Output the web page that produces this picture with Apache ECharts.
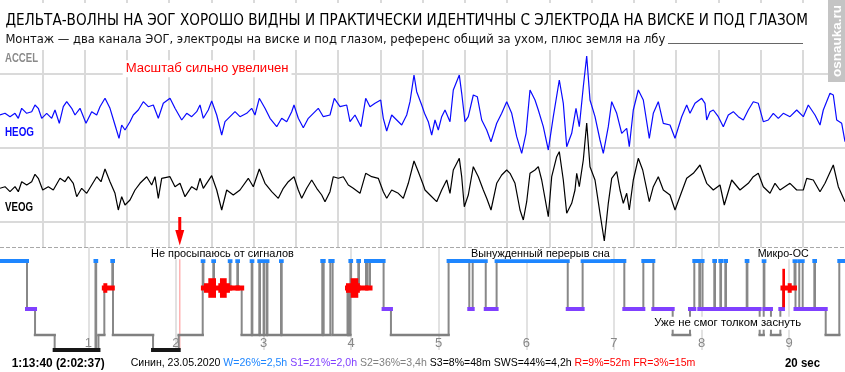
<!DOCTYPE html>
<html><head><meta charset="utf-8">
<script src="https://cdn.jsdelivr.net/npm/echarts@6/dist/echarts.min.js"></script>
<style>html,body{margin:0;padding:0;background:#fff}#c{width:845px;height:372px}</style>
</head><body><div id="c"></div>
<script>
// ---------------- DATA ----------------
const FS = 42.25;          // display samples per second
const EPOCH_SEC = 20;      // epoch length, s
// HEOG trace: [sample, amplitude]
const heog = [[0,-3],[5,-1.3],[10,-4.7],[15,-1.3],[18.3,-6.3],[21.7,3.7],[26.7,-1.3],[31.7,0.3],[35,7],[38.3,3.7],[41.7,-6.3],[46.7,-1.3],[51.7,-6.3],[55,2],[59.3,-11.3],[63.3,5.3],[66.7,10.3],[71.7,3.7],[75,-3],[80,3.7],[86,-11.3],[91.7,0.3],[96.7,-3],[100,5.3],[105,13.7],[110,3.7],[115,-13],[119,-26.3],[121.7,-13],[125,-18],[130,-9.7],[133.3,-3],[138.3,2],[143.3,10.3],[148.3,5.3],[153.3,7],[158.3,-6.3],[163.3,8.7],[170,13.7],[175,3.7],[181.7,-8],[186.7,-1.3],[191.7,-4.7],[196.7,0.3],[200,7],[203.3,-6.3],[208.3,2],[211.7,11],[216.7,-3],[221.7,-23],[225,-9.7],[230,-4.7],[235,0.3],[240,-4.7],[246.7,-1.3],[251.7,3.7],[255,-3],[259.3,13.7],[265,3.7],[270,-6.3],[276.7,-14.7],[281.7,-6.3],[286.7,-9.7],[291.7,0.3],[294,7],[298.3,-6.3],[303.3,-15.7],[308.3,-6.3],[313.3,-1.3],[318.3,3.7],[323.3,-4.7],[330,-3],[334.3,13.7],[340,5.3],[346.7,7],[350,-9.7],[355,-3],[361,-14.7],[365.7,13.7],[370,5.3],[375,8.7],[380.7,12],[383.3,-6.3],[386.7,-19],[391.7,-3],[396.7,-8],[401.7,-13],[406.7,-3],[410,10.3],[414,37],[416.7,20.3],[421.7,7],[424.5,-1.3],[428.3,-9.7],[431.7,-23],[435,-8],[438.3,-18],[441.7,-4.7],[445,2],[450,-9.7],[453.3,22],[459.3,37],[461.7,18.7],[465,-9.7],[468.3,-4.7],[473.3,17],[477.3,15.3],[481.7,-8],[486.7,-18],[491,-29.7],[496.7,-11.3],[501.7,-1.3],[506.7,10.3],[511.7,-1.3],[516.7,-24.7],[521.7,-41.3],[526,-21.3],[530,22],[535,12],[538.3,2],[543.3,-14.7],[548.3,-38],[553.3,-4.7],[559.3,32],[563.3,8.7],[566.7,-34.7],[571.7,-21.3],[576,3.7],[579.3,-14.7],[583.3,25.3],[586.7,56],[590,12],[595,-4.7],[600,-28],[603.3,-41.3],[608.3,-14.7],[611.7,10.3],[616.7,-1.3],[621.7,-21.3],[626.7,-16.3],[629.3,-34.7],[633.3,2],[638.3,22],[643.3,12],[649.3,-26.3],[653.3,-1.3],[658.3,10.3],[663.3,-11.3],[670,-13],[675,-26.3],[681.7,-4.7],[686.7,7],[690,-1.3],[695,8.7],[701.7,13.7],[705,8.7],[706.7,-8],[710,0.3],[713.3,2],[718.3,-4.7],[723.3,-14.7],[728.3,-3],[733.3,0.3],[738.3,-4.7],[743.3,-8],[748.3,2],[753.3,10.3],[758.3,8.7],[763.3,-9.7],[768.3,-8],[773.3,-1.3],[778.3,-6.3],[783.3,-1.3],[790,-4.7],[796.7,2],[803.3,-4.7],[808.3,7],[815,-3],[820,-13],[823.3,2],[830,18.7],[833.3,17],[836.7,-8],[841.7,-11.3],[845,-29.7]];
// VEOG trace: [sample, amplitude]
const veog = [[0,-1.3],[5,0.3],[10,-4.7],[15,0.3],[18.3,-4.7],[21.7,5.3],[26.7,2],[31.7,5.3],[35,12.7],[38.3,8.7],[42.7,-3],[48.3,0.3],[53.3,-3],[60,8.7],[65,5.3],[68.3,10.3],[73.3,3.7],[76.7,-9.7],[81.7,-1.3],[86.7,-6.3],[91.7,2],[96.7,10.3],[101,5.3],[105,18],[110,5.3],[115,-6.3],[118.3,-23],[121.7,-9.7],[125,-18],[130,-13],[135,-3],[140,3.7],[146.7,10.3],[151.7,2],[155,10.3],[158.3,-11.3],[161.7,8.7],[170,10.3],[175,0.3],[180,3.7],[185,-9.7],[191.7,0.3],[196.7,-3],[200,8.7],[203.3,-1.3],[211.7,11.3],[216.7,-3],[221.7,-23],[226.7,-3],[233.3,-8],[240,-3],[248.3,8.7],[253.3,0.3],[259.3,18],[265,3.7],[271.7,-4.7],[278.3,-11.3],[283.3,-1.3],[288.3,5.3],[294,10.3],[298.3,-3],[301.7,-11.3],[306.7,-1.3],[311.7,7],[316.7,-1.3],[321.7,-8],[325,-14.7],[330,-4.7],[333.3,10.3],[338.3,8.7],[343.3,10.3],[348.3,2],[353.3,-1.3],[360,-6.3],[365.7,13.7],[371.7,10.3],[378.3,8.7],[383.3,-4.7],[386.7,-11.3],[391.7,-3],[398.3,-6.3],[403.3,-11.3],[408.3,3.7],[414,26],[418.3,15.3],[423.3,2],[425,-3],[430,-8],[436.7,-14.7],[441.7,-3],[446.7,7],[450,-6.3],[453.3,17],[459.3,28.7],[461.7,10.3],[464.3,-19.7],[468.3,-8],[473.3,20.3],[478.3,10.3],[483.3,-3],[486.7,-11.3],[491,-23],[496.7,3.7],[501.7,12],[506.7,17],[510,13.7],[515,3.7],[520,-23],[523.3,-33],[526.7,-14.7],[530,13.7],[535,17],[538.3,20.3],[541.7,7],[548.3,-29.7],[551.7,10.3],[556.7,30.3],[559.3,35.3],[563.3,7],[566.7,-26.3],[571.7,-16.3],[575,-3],[576.7,13.7],[579.3,0.3],[583.3,27],[586.7,64],[590,20.3],[595,7],[600,-26.3],[604.3,-54],[608.3,-16.3],[611.7,8.7],[616.7,15.3],[620,-3],[623.3,-16.3],[626.7,-6.3],[629.3,-23],[633.3,7],[638.3,28.7],[642.7,17],[649.3,-14.7],[653.3,0.3],[658.3,10.3],[663.3,-3],[670,-8],[675,-23],[681.7,-4.7],[686.7,8.7],[693.3,13.7],[700,22],[706.7,3.7],[713.3,-3],[720,2],[724.3,-18],[731.7,7],[740,-3],[748.3,3.7],[753.3,10.3],[758.3,13.7],[763.3,0.3],[770,-6.3],[775,3.7],[780,-3],[790,3.7],[796.7,-3],[803.3,-3],[806.7,8.7],[813.3,7],[820,-4.7],[825,3.7],[833.3,22],[838.3,0.3],[845,-14.7]];

// Hypnogram: stage change times (hours from start) and stages
const stages = ['W','R','S1','S2','S3'];
const hypT = [0,0.300,0.392,0.616,1.082,1.090,1.116,1.183,1.274,1.282,1.739,2.032,2.306,2.314,2.427,2.435,2.615,2.623,2.701,2.709,2.751,2.865,2.873,2.952,2.960,3.001,3.009,3.037,3.045,3.200,3.208,3.671,3.687,3.763,3.789,3.959,3.968,3.976,3.984,3.992,4.000,4.082,4.090,4.170,4.189,4.216,4.371,4.455,5.113,5.349,5.388,5.537,5.661,6.473,6.643,7.119,7.336,7.450,7.671,7.869,7.918,7.975,7.983,8.012,8.146,8.154,8.215,8.223,8.272,8.280,8.516,8.524,8.664,8.710,8.718,8.793,8.900,8.930,9.062,9.073,9.116,9.155,9.288,9.296,9.418,9.573];
const hypS = ['W','S1','S2','S3','W','S3','S2','R','W','S2','S3','S2','W','R','W','R','W','R','W','R','S2','W','S2','W','S2','W','S2','W','S2','W','S2','W','S2','W','S2','R','S2','R','S2','W','R','W','R','W','R','W','S1','S2','W','S1','W','S1','W','S1','W','S1','W','S1','S2','S1','W','S1','W','S1','W','S1','W','S1','W','S1','W','S1','S2','W','S1','S2','S1','R','W','S1','W','S1','W','S1','S2','W'];
const HYP_END = 9.63;
// REM eye-movement bursts: start h, end h, intensity (1,2,4)
const remStart = [1.172,2.321,2.370,2.484,2.503,3.942,3.995,8.923,8.984];
const remEnd   = [1.217,2.458,2.458,2.617,2.580,4.100,4.082,8.953,9.030];
const remAmp   = [1,1,2,1,2,1,2,4,1];
const CURSOR_H = 2.044;    // 2:02:37 elapsed
const hourTicks = [1,2,3,4,5,6,7,8,9];

const titleText = 'ДЕЛЬТА-ВОЛНЫ НА ЭОГ ХОРОШО ВИДНЫ И ПРАКТИЧЕСКИ ИДЕНТИЧНЫ С ЭЛЕКТРОДА НА ВИСКЕ И ПОД ГЛАЗОМ';
const subText = 'Монтаж — два канала ЭОГ, электроды на виске и под глазом, референс общий за ухом, плюс земля на лбу';
const statParts = ['Синин, 23.05.2020 ','W=26%=2,5h ','S1=21%=2,0h ','S2=36%=3,4h ','S3=8%=48m SWS=44%=4,2h ','R=9%=52m FR=3%=15m'];

// ---------------- STYLE ----------------
const W_C='#1e86ff', R_C='#ff0000', S1_C='#8040ff', S2_C='#808080', S3_C='#161616';
const statColors = ['#000',W_C,S1_C,S2_C,'#000',R_C];
const STAGE_STYLE = [
  {level:14, color:W_C, width:4},
  {level:41, color:R_C, width:5},
  {level:62, color:S1_C, width:4},
  {level:88, color:S2_C, width:2.5},
  {level:103, color:S3_C, width:4}
];
const REM_HALF = {1:4.8, 2:9.8, 4:19.2};
const GRID_C = '#dadada';

const cv = document.createElement('canvas').getContext('2d');
function has(f){ const s='АБВГДabcdefWMil 123'; cv.font='40px monospace'; const a=cv.measureText(s).width; cv.font='40px "'+f+'", monospace'; return Math.abs(cv.measureText(s).width-a)>0.5; }
const NARROW = has('Liberation Sans Narrow') ? '"Liberation Sans Narrow"' : (has('DejaVu Sans Condensed') ? '"DejaVu Sans Condensed"' : '"Liberation Sans"');
const SANS = '"Liberation Sans", Arial, sans-serif';
function measure(text, fam, weight, size){ cv.font = weight+' '+size+'px '+fam; return cv.measureText(text).width; }

// text fitted to a width: either by font size, or (if size given) by horizontal scale
function txt(text, x, y, fam, weight, width, color, extra, size){
  let fs, sx = 1;
  if (size) { fs = size; sx = width / measure(text, fam, weight, size); }
  else { fs = 100*width/measure(text, fam, weight, 100); }
  return {type:'text', x:x, y:y, z:61, scaleX:sx, style:Object.assign({text:text, fontFamily:fam.replace(/"/g,''), fontSize:fs, fontWeight:weight, fill:color, align:'left', verticalAlign:'middle'}, extra||{})};
}

// ---------------- BUILD ----------------
const segs = hypT.map((t,i)=>[t, i+1<hypT.length?hypT[i+1]:HYP_END, stages.indexOf(hypS[i]), i>0?stages.indexOf(hypS[i-1]):-1]);
const rems = remStart.map((s,i)=>[s, remEnd[i], remAmp[i]]);

const statFull = statParts.join('');
const statFs = 100*565/measure(statFull, SANS, 'normal', 100);
const rich = {};
statParts.forEach((p,i)=>{ rich['p'+i] = {fill:statColors[i], fontSize:statFs, fontFamily:'Liberation Sans'}; });
const statText = statParts.map((p,i)=>'{p'+i+'|'+p+'}').join('');

const chart = echarts.init(document.getElementById('c'));
const option = {
  animation:false,
  backgroundColor:'#fff',
  grid:[
    {left:0, top:-0.5, width:845, height:248},
    {left:0, top:37, width:845, height:150},
    {left:0, top:112, width:845, height:150},
    {left:0.7, top:247, width:844.3, height:103}
  ],
  xAxis:[
    {gridIndex:0, type:'value', min:0, max:EPOCH_SEC, interval:1, axisLine:{show:false}, axisTick:{show:false}, axisLabel:{show:false},
      splitLine:{show:true, showMinLine:false, showMaxLine:false, lineStyle:{color:GRID_C, width:2}}},
    {gridIndex:1, type:'value', min:0, max:EPOCH_SEC, show:false},
    {gridIndex:2, type:'value', min:0, max:EPOCH_SEC, show:false},
    {gridIndex:3, type:'value', min:0, max:844.3/87.6, interval:1, axisLine:{show:false}, axisTick:{show:false},
      axisLabel:{show:true, inside:true, margin:0, color:'#888', fontSize:13, fontFamily:'Liberation Sans', showMinLabel:false, showMaxLabel:false,
        formatter:v=> hourTicks.indexOf(Math.round(v))>=0 && Math.abs(v-Math.round(v))<1e-6 ? String(Math.round(v)) : ''},
      splitLine:{show:true, showMinLine:false, showMaxLine:false, lineStyle:{color:'#e2e2e2', width:2}}}
  ],
  yAxis:[
    {gridIndex:0, type:'value', min:0, max:3.35, interval:1, inverse:true, axisLine:{show:false}, axisTick:{show:false}, axisLabel:{show:false},
      splitLine:{show:true, showMinLine:false, showMaxLine:false, lineStyle:{color:GRID_C, width:2}}},
    {gridIndex:1, type:'value', min:-75, max:75, show:false},
    {gridIndex:2, type:'value', min:-75, max:75, show:false},
    {gridIndex:3, type:'value', min:0, max:103, inverse:true, show:false}
  ],
  series:[
    {type:'line', name:'HEOG', xAxisIndex:1, yAxisIndex:1, data:heog.map(p=>[p[0]/FS, p[1]]), symbol:'none', clip:false, z:3,
      lineStyle:{color:'#0a0aff', width:1.2}},
    {type:'line', name:'VEOG', xAxisIndex:2, yAxisIndex:2, data:veog.map(p=>[p[0]/FS, p[1]]), symbol:'none', clip:false, z:4,
      lineStyle:{color:'#000', width:1.2}},
    {type:'custom', name:'cursor', xAxisIndex:3, yAxisIndex:3, data:[[CURSOR_H, 0]], clip:false, z:3,
      renderItem:(p, api)=>{
        const a = api.coord([api.value(0), 1]), b = api.coord([api.value(0), 103]);
        const x = a[0];
        return {type:'group', children:[
          {type:'line', shape:{x1:x, y1:a[1], x2:x, y2:b[1]}, style:{stroke:'#ffb4b4', lineWidth:1.5}},
          {type:'rect', shape:{x:x-1.5, y:217, width:3, height:14}, style:{fill:'#ff0000'}},
          {type:'polygon', shape:{points:[[x-4.5,230],[x+4.5,230],[x,245.5]]}, style:{fill:'#ff0000'}}
        ]};
      }},
    {type:'custom', name:'transitions', xAxisIndex:3, yAxisIndex:3, data:segs, clip:false, z:5,
      renderItem:(p, api)=>{
        const pv = api.value(3); if (pv < 0) return null;
        const s = api.value(0);
        const a = api.coord([s, STAGE_STYLE[pv].level]), b = api.coord([s, STAGE_STYLE[api.value(2)].level]);
        return {type:'line', shape:{x1:a[0], y1:a[1], x2:b[0], y2:b[1]}, style:{stroke:'#888', lineWidth:2}};
      }},
    {type:'custom', name:'stages', xAxisIndex:3, yAxisIndex:3, data:segs, clip:false, z:6,
      renderItem:(p, api)=>{
        const st = STAGE_STYLE[api.value(2)];
        const a = api.coord([api.value(0), st.level]), b = api.coord([api.value(1), st.level]);
        return {type:'line', shape:{x1:a[0], y1:a[1], x2:b[0], y2:b[1]}, style:{stroke:st.color, lineWidth:st.width, lineCap:'square'}};
      }},
    {type:'custom', name:'rem', xAxisIndex:3, yAxisIndex:3, data:rems, clip:false, z:7,
      renderItem:(p, api)=>{
        const h = REM_HALF[api.value(2)];
        const a = api.coord([api.value(0), STAGE_STYLE[1].level]), b = api.coord([api.value(1), STAGE_STYLE[1].level]);
        return {type:'rect', shape:{x:a[0], y:a[1]-h, width:Math.max(b[0]-a[0],2), height:2*h}, style:{fill:R_C}};
      }}
  ],
  graphic:[
    {type:'rect', z:60, shape:{x:0, y:3, width:826, height:47}, style:{fill:'#fff'}},
    {type:'rect', z:60, shape:{x:828, y:0, width:17, height:82}, style:{fill:'#c4c4c4'}},
    {type:'text', z:61, x:837, y:41, rotation:Math.PI/2, style:{text:'osnauka.ru', fill:'#fff', fontSize:13.5, fontWeight:'bold', fontFamily:'Liberation Sans', align:'center', verticalAlign:'middle'}},
    txt(titleText, 5.4, 21, NARROW, 'normal', 803, '#000'),
    txt(subText, 5.4, 40, NARROW, 'normal', 660, '#111'),
    {type:'line', z:61, shape:{x1:668, y1:43.5, x2:803, y2:43.5}, style:{stroke:'#666', lineWidth:1}},
    {type:'rect', z:60, shape:{x:0, y:50, width:41, height:14}, style:{fill:'#fff'}},
    txt('ACCEL', 5, 58.3, SANS, 'bold', 33, '#8a8a8a', null, 12.5),
    txt('Масштаб сильно увеличен', 122.7, 68.7, SANS, 'normal', 163, '#ff0000', {backgroundColor:'#fff', padding:[2,3]}),
    txt('HEOG', 5, 132.8, SANS, 'bold', 29, '#0a0aff', null, 12.5),
    txt('VEOG', 5, 207.3, SANS, 'bold', 28, '#000', null, 12),
    {type:'line', z:59, shape:{x1:0, y1:247.5, x2:845, y2:247.5}, style:{stroke:'#a8a8a8', lineWidth:1, lineDash:[4,2]}},
    txt('Не просыпаюсь от сигналов', 150, 253.7, SANS, 'normal', 143, '#000', {backgroundColor:'#fff', padding:[0,1]}),
    txt('Вынужденный перерыв сна', 470, 253.7, SANS, 'normal', 139, '#000', {backgroundColor:'#fff', padding:[0,1]}),
    txt('Микро-ОС', 756.7, 253.7, SANS, 'normal', 51, '#000', {backgroundColor:'#fff', padding:[0,1]}),
    txt('Уже не смог толком заснуть', 653.3, 323.3, SANS, 'normal', 147, '#000', {backgroundColor:'#fff', padding:[1,1]}),
    txt('1:13:40 (2:02:37)', 11.7, 363, SANS, 'bold', 93, '#000', null, 13),
    txt('20 sec', 785, 363, SANS, 'bold', 35, '#000', null, 13),
    {type:'text', z:61, x:130.7, y:363, style:{text:statText, rich:rich, fontSize:statFs, fontFamily:'Liberation Sans', fill:'#000', align:'left', verticalAlign:'middle'}}
  ]
};
chart.setOption(option);
</script>
</body></html>
